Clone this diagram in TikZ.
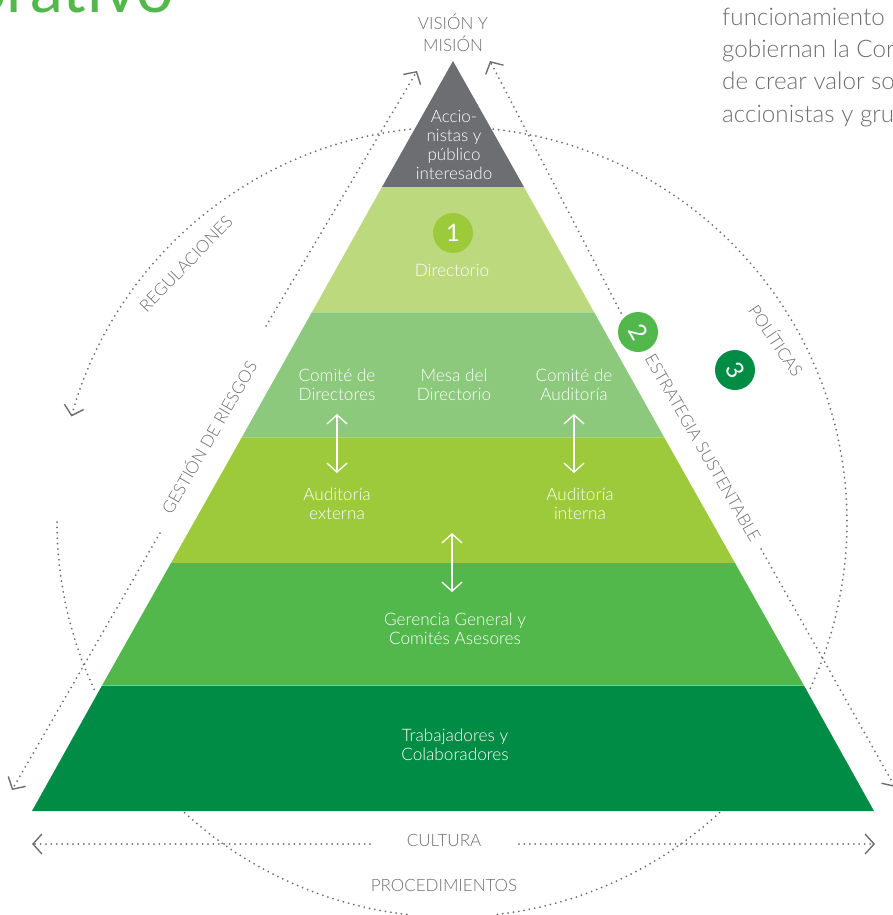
\documentclass[tikz,border=0pt]{standalone}
\usepackage{fontspec}
\setmainfont{Lato Light}
\newfontfamily\headfont{Lato}
\usepackage{tikz}
\usetikzlibrary{arrows.meta, positioning}

\definecolor{greyink}{HTML}{6D6E71}
\definecolor{bandtop}{HTML}{BDD97E}
\definecolor{bandcomite}{HTML}{8CC97C}
\definecolor{bandaudit}{HTML}{9CCA3B}
\definecolor{bandgerencia}{HTML}{52B84B}
\definecolor{bandbase}{HTML}{008C44}

\tikzset{
  dotline/.style={greyink, line width=2pt, line cap=round, dash pattern=on 0pt off 5.4pt},
  dotarrow/.style={dotline, -{Straight Barb[length=9pt,width=20pt,line width=1.4pt]}},
  whitearrow/.style={white, line width=1.3pt, {Straight Barb[length=9pt,width=20pt]}-{Straight Barb[length=9pt,width=20pt]}},
  bandline/.style={white, opacity=0.25, line width=0.8pt},
  bandlabel/.style={white, font=\fontsize{17.2}{19}\selectfont, align=center, inner sep=0pt},
  greylabel/.style={greyink, font=\fontsize{17}{22}\selectfont, align=center, inner sep=0pt},
  badge/.style={circle, minimum size=40pt, inner sep=0pt, white, font=\headfont\fontsize{24}{24}\selectfont},
  paratext/.style={greyink, font=\fontsize{24.2}{24}\selectfont, anchor=base west, inner sep=0pt}
}

\begin{document}
\begin{tikzpicture}[x=1pt, y=-1pt]
\useasboundingbox (0,0) rectangle (893,915);
\clip (0,0) rectangle (893,915);

% pyramid bands
\fill[greyink] (453,61) -- (524,187) -- (382,187) -- cycle;
\fill[bandtop] (382,187) -- (524,187) -- (594,312) -- (312,312) -- cycle;
\fill[bandcomite] (312,312) -- (594,312) -- (664,437) -- (242,437) -- cycle;
\fill[bandaudit] (242,437) -- (664,437) -- (735,563) -- (171,563) -- cycle;
\fill[bandgerencia] (171,563) -- (735,563) -- (804,685.5) -- (102,685.5) -- cycle;
\fill[bandbase] (102,685.5) -- (804,685.5) -- (874,811) -- (32,811) -- cycle;
\foreach \xa/\xb/\yy in {312/594/312, 242/664/437, 102/804/685.5}
  \draw[bandline] (\xa,\yy) -- (\xb,\yy);

% heading and paragraph, cut by the page
\node (heading) [anchor=base east, inner sep=0pt, font=\headfont\fontsize{66}{66}\selectfont, text=bandgerencia] at (174,13) {orativo};
\node (paraA) [paratext] at (722,26) {funcionamiento};
\node (paraB) [paratext] at (722,58) {gobiernan la Cor};
\node (paraC) [paratext] at (722,90) {de crear valor so};
\node (paraD) [paratext] at (722,122) {accionistas y gru};

% labels inside the pyramid
\node (accion) [bandlabel, font=\fontsize{17}{18.7}\selectfont] at (454,145) {Accio-\\nistas y\\público\\interesado};
\node (directorio) [bandlabel] at (452,270) {Directorio};
\node (comdir) [bandlabel] at (337,385) {Comité de\\Directores};
\node (mesa) [bandlabel] at (454,385) {Mesa del\\Directorio};
\node (comaud) [bandlabel] at (574,385) {Comité de\\Auditoría};
\node (audext) [bandlabel] at (337,504) {Auditoría\\externa};
\node (audint) [bandlabel] at (580,504) {Auditoría\\interna};
\node (gerencia) [bandlabel] at (455,629) {Gerencia General y\\Comités Asesores};
\node (trabaj) [bandlabel] at (455,745) {Trabajadores y\\Colaboradores};

% numbers
\node (one) [badge, fill=bandaudit] at (453,233) {1};
\node (two) [badge, fill=bandgerencia] at (638,332) {\rotatebox{-60}{2}};
\node (three) [badge, fill=bandbase] at (735,370) {\rotatebox{-60}{3}};

% outer labels
\node (vision) [greylabel] at (453,33) {VISIÓN Y\\MISIÓN};
\node (cultura) [greylabel] at (444,840) {CULTURA};
\node (proced) [greylabel] at (444,885) {PROCEDIMIENTOS};
\node (regul) [greylabel, rotate=46] at (186,264) {REGULACIONES};
\node (gestion) [greylabel, rotate=60] at (208,437) {GESTIÓN DE RIESGOS};
\node (estrat) [greylabel, rotate=-60] at (703,448) {ESTRATEGIA SUSTENTABLE};
\node (polit) [greylabel, rotate=-56] at (777,340) {POLÍTICAS};

% white arrows
\coordinate (wa1) at (337,414);
\coordinate (wa2) at (337,473);
\coordinate (wb1) at (574,414);
\coordinate (wb2) at (574,473);
\coordinate (wc1) at (452,533);
\coordinate (wc2) at (452,592);
\draw[whitearrow] (wa1) -- (wa2);
\draw[whitearrow] (wb1) -- (wb2);
\draw[whitearrow] (wc1) -- (wc2);

% dotted arrows along the sides
\coordinate (la1) at (266,326);
\coordinate (la2) at (417,71);
\coordinate (lb1) at (160,533);
\coordinate (lb2) at (12,790);
\coordinate (ra1) at (621,313);
\coordinate (ra2) at (490,61);
\coordinate (rb1) at (761,549);
\coordinate (rb2) at (895,787);
\coordinate (ca1) at (370,844);
\coordinate (ca2) at (32,844);
\coordinate (cb1) at (519,844);
\coordinate (cb2) at (875,844);
\draw[dotarrow] (la1) -- (la2);
\draw[dotarrow] (lb1) -- (lb2);
\draw[dotarrow] (ra1) -- (ra2);
\draw[dotarrow] (rb1) -- (rb2);
\draw[dotarrow] (ca1) -- (ca2);
\draw[dotarrow] (cb1) -- (cb2);

% the big circle, in pieces
\coordinate (hub) at (452,522);
\draw[dotarrow] (hub) ++(96.1:395pt) arc[start angle=96.1, end angle=164.5, radius=395pt];
\draw[dotline] (hub) ++(180:395pt) arc[start angle=180, end angle=205.2, radius=395pt];
\draw[dotline] (hub) ++(227.4:395pt) arc[start angle=227.4, end angle=264, radius=395pt];
\draw[dotline] (hub) ++(276.6:395pt) arc[start angle=276.6, end angle=312.9, radius=395pt];
\draw[dotline] (hub) ++(84:395pt) arc[start angle=84, end angle=-25.5, radius=395pt];
\end{tikzpicture}
\end{document}
